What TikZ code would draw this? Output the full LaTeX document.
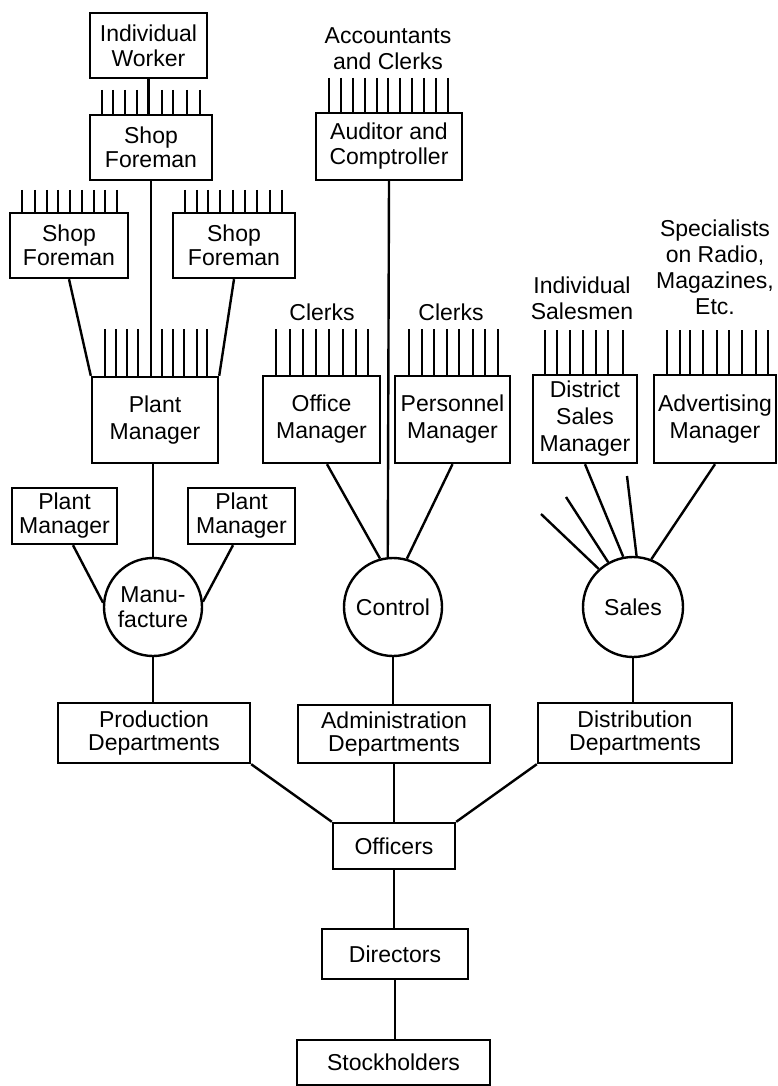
\documentclass[tikz,border=0pt]{standalone}
\usepackage{fontspec}
\setmainfont{Liberation Sans}
\usetikzlibrary{calc}
\begin{document}
\begin{tikzpicture}[x=1pt,y=-1pt,
  box/.style={draw, line width=2.4pt, inner sep=0pt, align=center, font=\fontsize{23}{25}\selectfont},
  sz/.style 2 args={minimum width=#1pt, minimum height=#2pt},
  circ/.style={draw, circle, line width=2.4pt, inner sep=0pt, align=center, font=\fontsize{23}{25}\selectfont},
  lbl/.style={inner sep=0pt, align=center, font=\fontsize{23}{26}\selectfont},
  link/.style={line width=2.4pt},
  tick/.style={line width=1.8pt}]
\useasboundingbox (0,0) rectangle (778,1086);

% ---- Manufacture branch
\node[box, sz={117}{65}] (iw) at (148.5,45.5) {Individual\\Worker};
\node[box, sz={122}{65}, font=\fontsize{23}{24}\selectfont] (sf0) at (151,147.5) {Shop\\Foreman};
\node[box, sz={118}{65}, font=\fontsize{23}{24}\selectfont] (sf1) at (69,245.5) {Shop\\Foreman};
\node[box, sz={122}{65}, font=\fontsize{23}{24}\selectfont] (sf2) at (234,245.5) {Shop\\Foreman};
\node[box, sz={126}{86}, font=\fontsize{23}{27}\selectfont] (pm0) at (155,420) {Plant\\Manager};
\node[box, sz={105}{56}, font=\fontsize{23}{24}\selectfont] (pm1) at (64.5,516) {Plant\\Manager};
\node[box, sz={107}{56}, font=\fontsize{23}{24}\selectfont] (pm2) at (241.5,516) {Plant\\Manager};
\node[circ, minimum size=98pt] (man) at (153,607) {Manu-\\facture};
\node[box, sz={192}{60}, font=\fontsize{23}{23}\selectfont] (prod) at (154,733) {Production\\Departments};

% ---- Control branch
\node[lbl] (acc) at (388,49) {Accountants\\and Clerks};
\node[box, sz={146}{67}] (aud) at (389,146.5) {Auditor and\\Comptroller};
\node[lbl] (clk1) at (322,312) {Clerks};
\node[lbl] (clk2) at (451,312) {Clerks};
\node[box, sz={117}{87}, font=\fontsize{23}{27}\selectfont] (om) at (321.5,419.5) {Office\\Manager};
\node[box, sz={115}{87}, font=\fontsize{23}{27}\selectfont] (perm) at (452.5,419.5) {Personnel\\Manager};
\node[circ, minimum size=98pt] (ctl) at (393,607) {Control};
\node[box, sz={192}{58}, font=\fontsize{23}{23}\selectfont] (adm) at (394,734) {Administration\\Departments};

% ---- Sales branch
\node[lbl] (isal) at (582,298) {Individual\\Salesmen};
\node[lbl] (spec) at (715,267) {Specialists\\on Radio,\\Magazines,\\Etc.};
\node[box, sz={104}{88}, font=\fontsize{23}{27}\selectfont] (dsm) at (585,419) {District\\Sales\\Manager};
\node[box, sz={122}{88}, font=\fontsize{23}{27}\selectfont] (adv) at (715,419) {Advertising\\Manager};
\node[circ, minimum size=100pt] (sal) at (633,607) {Sales};
\node[box, sz={194}{60}, font=\fontsize{23}{23}\selectfont] (dist) at (635,733) {Distribution\\Departments};

% ---- Trunk
\node[box, sz={122}{46}] (off) at (394,846) {Officers};
\node[box, sz={146}{50}] (dir) at (395,954) {Directors};
\node[box, sz={193}{45}] (stk) at (393.5,1062.5) {Stockholders};

% ---- Ticks (subordinates)
\foreach \x in {102,113,125,137,162,173,187,200} \draw[tick] (\x,90) -- (\x,115);
\foreach \x in {22,35,47,58,70,82,94,105,117} \draw[tick] (\x,190) -- (\x,213);
\foreach \x in {185,197,208,220,233,245,257,270,282} \draw[tick] (\x,190) -- (\x,213);
\foreach \x in {105,116,127,138,162,173,184,197,207} \draw[tick] (\x,329) -- (\x,377);
\foreach \x in {329,341,353,365,377,388,400,412,424,436,448} \draw[tick] (\x,78) -- (\x,113);
\foreach \x in {276,290,303,316,329,343,356,368} \draw[tick] (\x,329) -- (\x,376);
\foreach \x in {409,422,434,447,459,473,485,498} \draw[tick] (\x,329) -- (\x,376);
\foreach \x in {545,557,570,583,596,608,623} \draw[tick] (\x,330) -- (\x,375);
\foreach \x in {667,680,690,703,717,729,742,756,768} \draw[tick] (\x,330) -- (\x,375);

% ---- Connectors: manufacture
\draw[link] (iw.south) -- (iw.south |- sf0.north);
\draw[link] (sf0.south) -- (sf0.south |- pm0.north);
\draw[link] (sf1.south) -- (pm0.north west);
\draw[link] (sf2.south) -- (pm0.north east);
\draw[link] (man.north |- pm0.south) -- (man.north);
\draw[link] ([xshift=8.5pt]pm1.south) -- (man.175);
\draw[link] ([xshift=-8.5pt]pm2.south) -- (man.6);
\draw[link] (man.south) -- (man.south |- prod.north);

% ---- Connectors: control
\draw[link] (aud.south) -- (ctl.96);
\draw[link] ([xshift=5.5pt]om.south) -- (ctl.105.5);
\draw[link] (perm.south) -- (ctl.74);
\draw[link] (ctl.south) -- (ctl.south |- adm.north);

% ---- Connectors: sales
\coordinate (f1) at (627,476);
\coordinate (f2) at (566,497);
\coordinate (f3) at (541,514);
\draw[link] (dsm.south) -- (sal.101.5);
\draw[link] (f1) -- (sal.86.5);
\draw[link] (f2) -- (sal.119.6);
\draw[link] (f3) -- (sal.132);
\draw[link] (adv.south) -- (sal.69);
\draw[link] (sal.south) -- (sal.south |- dist.north);

% ---- Trunk connectors
\draw[link] (prod.south east) -- (off.north west);
\draw[link] (adm.south) -- (adm.south |- off.north);
\draw[link] (dist.south west) -- (off.north east);
\draw[link] (off.south) -- (off.south |- dir.north);
\draw[link] (dir.south) -- (dir.south |- stk.north);
\end{tikzpicture}
\end{document}
